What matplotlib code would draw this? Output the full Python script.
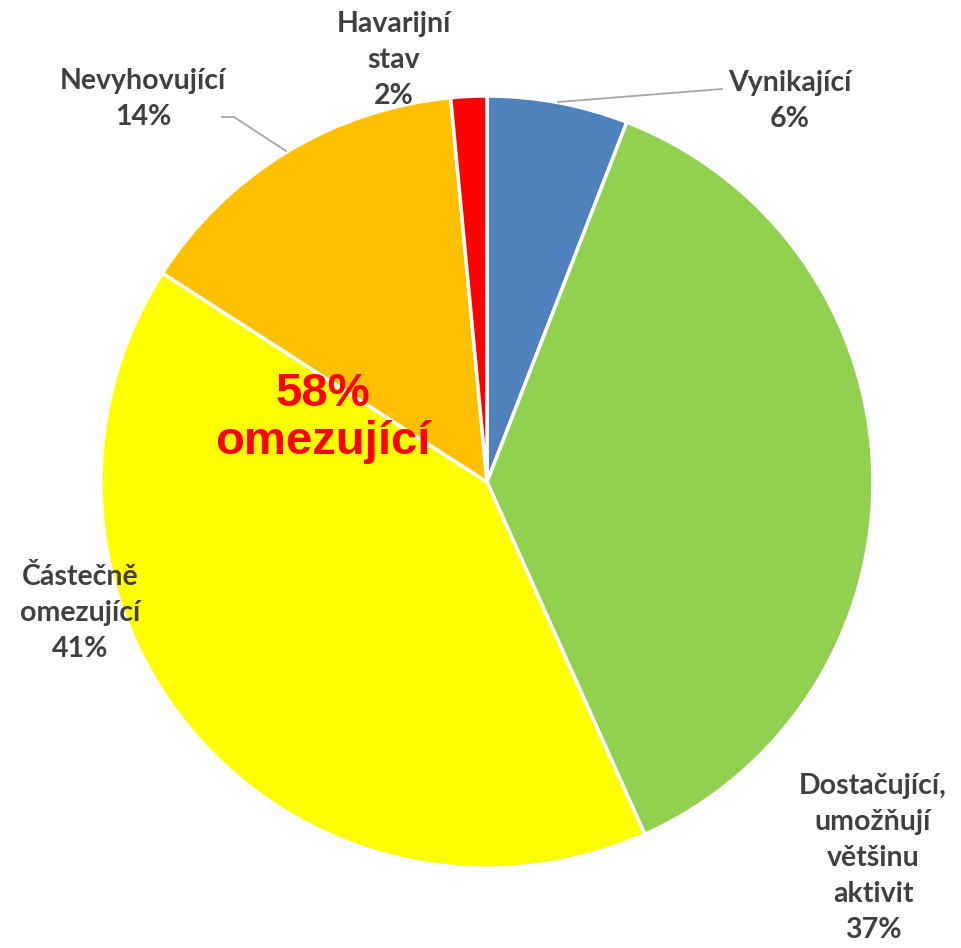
"""
Pie chart: stav prostor (share of ratings), with the 'omezující' group called out.
"""
import matplotlib
matplotlib.use("Agg")
import matplotlib.pyplot as plt

categories = ["Vynikající", "Dostačující,\numožňují\nvětšinu\naktivit",
              "Částečně\nomezující", "Nevyhovující", "Havarijní\nstav"]
shares = [5.9, 37.4, 40.8, 14.4, 1.5]
colors = ["#4F81BD", "#92D050", "#FFFF00", "#FFC000", "#FF0000"]
callout_share = 58
callout_text = "omezující"

W, H = 961, 948
LABEL_COLOR = "#404040"

fig = plt.figure(figsize=(W / 100, H / 100), dpi=100)
ax = fig.add_axes([0, 0, 1, 1])


def py(y):
    # pixel row (from top) -> data y
    return H - y


ax.pie(shares, colors=colors, startangle=90, counterclock=False,
       center=(487, py(482)), radius=386, frame=True,
       wedgeprops=dict(edgecolor="white", linewidth=2.5))
ax.set_xlim(0, W)
ax.set_ylim(0, H)
ax.set_aspect("equal")
ax.axis("off")

# label block centres in pixel coords
label_pos = [(790, 101), (873, 858), (80, 613), (143, 99), (394, 60)]
for name, val, (x, y) in zip(categories, shares, label_pos):
    ax.text(x, py(y), f"{name}\n{val:.0f}%", ha="center", va="center",
            fontsize=20.5, fontweight="bold", family="Lato", color=LABEL_COLOR,
            linespacing=1.48)

# leader lines
ax.plot([558, 722], [py(102), py(89)], color="#A6A6A6", lw=1.3)
ax.plot([222, 234, 286], [py(117), py(117), py(151)], color="#A6A6A6", lw=1.3)

ax.text(323, py(418), f"{callout_share}%\n{callout_text}", ha="center", va="center",
        fontsize=34, fontweight="bold", family="Liberation Sans", color="#FF0000",
        linespacing=1.1)

fig.savefig("out.png", dpi=100)
